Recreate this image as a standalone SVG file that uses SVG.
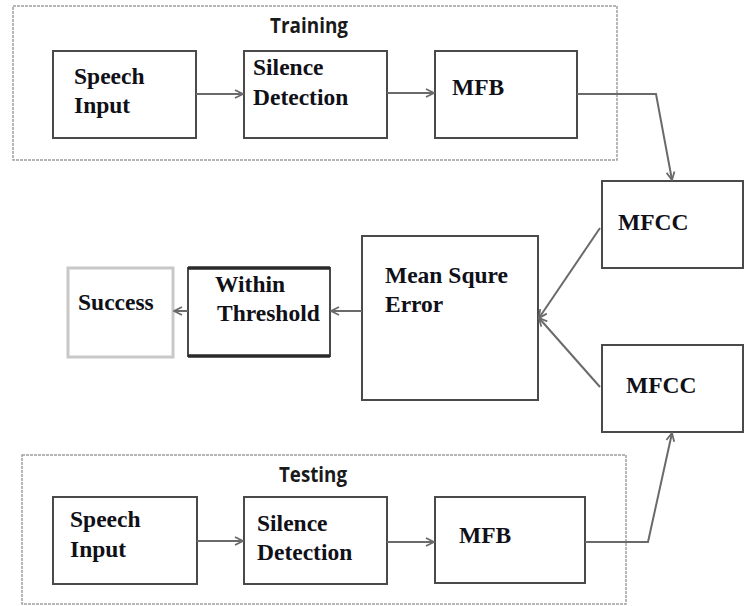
<svg xmlns="http://www.w3.org/2000/svg" width="748" height="606" viewBox="0 0 748 606">
  <style>
    .frame { fill: none; stroke: #a0a0a0; stroke-width: 1.5; stroke-dasharray: 3 1; }
    .box { fill: #fff; stroke: #4a4a4a; stroke-width: 2; }
    .faint { fill: #fff; stroke: #c8c8c8; stroke-width: 3; }
    .lbl { font-family: "Liberation Serif", "Times New Roman", serif; font-weight: bold; font-size: 23.5px; fill: #101018; }
    .ttl { font-family: "Open Sans", "Liberation Sans", sans-serif; font-weight: 700; font-size: 22px; fill: #1a1a1a; }
    .wire { fill: none; stroke: #6a6a6a; stroke-width: 2; }
  </style>
  <defs>
    <marker id="chev" viewBox="0 0 10 10" refX="9" refY="5" markerWidth="10" markerHeight="10" markerUnits="userSpaceOnUse" orient="auto">
      <path d="M1,1 L9,5 L1,9" fill="none" stroke="#6a6a6a" stroke-width="1.8"/>
    </marker>
  </defs>
  <rect width="748" height="606" fill="#fff"/>

  <!-- stage frames -->
  <g id="training">
    <rect class="frame" x="13" y="6" width="604" height="154"/>
    <text class="ttl" x="270" y="33" textLength="78" lengthAdjust="spacingAndGlyphs">Training</text>
  </g>
  <g id="testing">
    <rect class="frame" x="22" y="455" width="604" height="149"/>
    <text class="ttl" x="279" y="482" textLength="68" lengthAdjust="spacingAndGlyphs">Testing</text>
  </g>

  <!-- training chain -->
  <g id="train-input">
    <rect class="box" x="53" y="51" width="143" height="87"/>
    <text class="lbl" x="74" y="84">Speech</text>
    <text class="lbl" x="74" y="113">Input</text>
  </g>
  <g id="train-silence">
    <rect class="box" x="244" y="51" width="143" height="87"/>
    <text class="lbl" x="253" y="75">Silence</text>
    <text class="lbl" x="253" y="105">Detection</text>
  </g>
  <g id="train-mfb">
    <rect class="box" x="435" y="51" width="142" height="87"/>
    <text class="lbl" x="452" y="95">MFB</text>
  </g>
  <g id="train-mfcc">
    <rect class="box" x="602" y="181" width="141" height="87"/>
    <text class="lbl" x="618" y="230">MFCC</text>
  </g>

  <!-- comparison -->
  <g id="mse">
    <rect class="box" x="362" y="236" width="176" height="164"/>
    <text class="lbl" x="385" y="283">Mean Squre</text>
    <text class="lbl" x="385" y="312">Error</text>
  </g>
  <g id="threshold">
    <rect class="box" x="188" y="268" width="142" height="88"/>
    <line x1="188" y1="268" x2="330" y2="268" stroke="#2a2a2a" stroke-width="3.5"/>
    <line x1="188" y1="356" x2="330" y2="356" stroke="#2a2a2a" stroke-width="3.5"/>
    <text class="lbl" x="215" y="292">Within</text>
    <text class="lbl" x="217" y="321">Threshold</text>
  </g>
  <g id="success">
    <rect class="faint" x="68" y="268" width="105" height="89"/>
    <text class="lbl" x="78" y="310">Success</text>
  </g>

  <!-- testing chain -->
  <g id="test-input">
    <rect class="box" x="53" y="497" width="144" height="87"/>
    <text class="lbl" x="70" y="527">Speech</text>
    <text class="lbl" x="70" y="557">Input</text>
  </g>
  <g id="test-silence">
    <rect class="box" x="244" y="497" width="143" height="87"/>
    <text class="lbl" x="257" y="531">Silence</text>
    <text class="lbl" x="257" y="560">Detection</text>
  </g>
  <g id="test-mfb">
    <rect class="box" x="435" y="497" width="150" height="86"/>
    <text class="lbl" x="459" y="543">MFB</text>
  </g>
  <g id="test-mfcc">
    <rect class="box" x="602" y="345" width="141" height="87"/>
    <text class="lbl" x="626" y="393">MFCC</text>
  </g>

  <!-- connectors -->
  <g id="connectors">
    <line class="wire" x1="196" y1="94" x2="243" y2="94" marker-end="url(#chev)"/>
    <line class="wire" x1="387" y1="93" x2="434" y2="93" marker-end="url(#chev)"/>
    <polyline class="wire" points="577,94 656,94 672,180" marker-end="url(#chev)"/>
    <line class="wire" x1="600" y1="228" x2="539" y2="318" marker-end="url(#chev)"/>
    <line class="wire" x1="600" y1="387" x2="539" y2="318" marker-end="url(#chev)"/>
    <line class="wire" x1="362" y1="311" x2="331" y2="311" marker-end="url(#chev)"/>
    <line class="wire" x1="188" y1="311" x2="174" y2="311" marker-end="url(#chev)"/>
    <line class="wire" x1="197" y1="541" x2="243" y2="541" marker-end="url(#chev)"/>
    <line class="wire" x1="387" y1="542" x2="434" y2="542" marker-end="url(#chev)"/>
    <polyline class="wire" points="585,542 648,542 672,433" marker-end="url(#chev)"/>
  </g>
</svg>
